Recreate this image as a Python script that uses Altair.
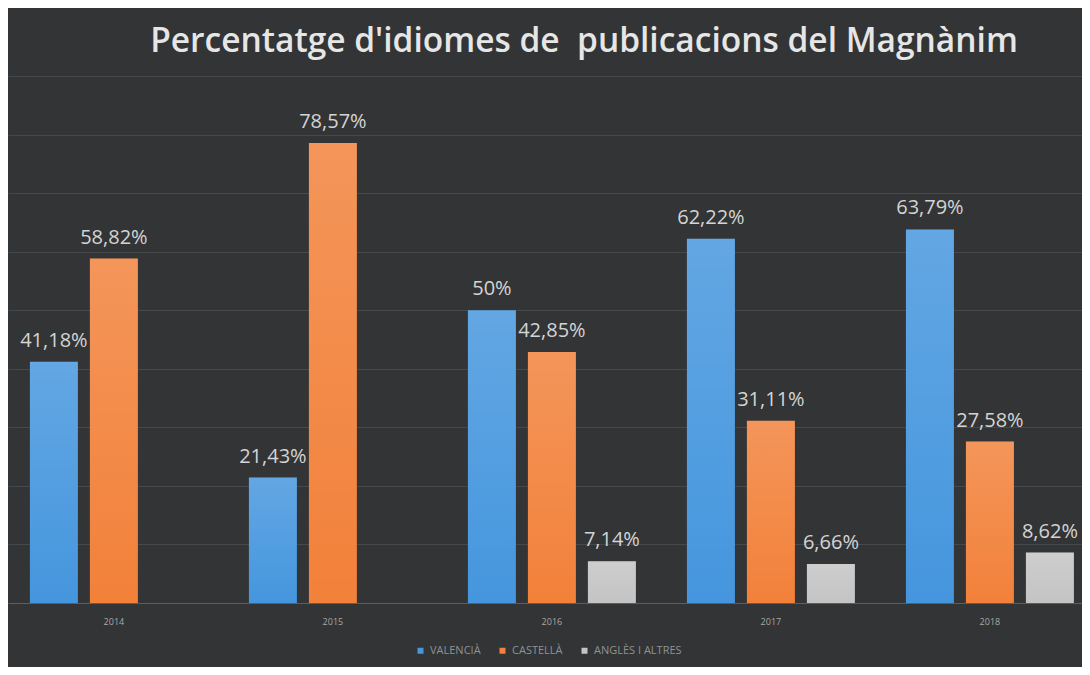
import altair as alt
import pandas as pd

years = ["2014", "2014", "2015", "2015", "2016", "2016", "2016", "2017", "2017", "2017", "2018", "2018", "2018"]
series = ["VALENCIÀ", "CASTELLÀ", "VALENCIÀ", "CASTELLÀ", "VALENCIÀ", "CASTELLÀ", "ANGLÈS I ALTRES",
          "VALENCIÀ", "CASTELLÀ", "ANGLÈS I ALTRES", "VALENCIÀ", "CASTELLÀ", "ANGLÈS I ALTRES"]
values = [41.18, 58.82, 21.43, 78.57, 50, 42.85, 7.14, 62.22, 31.11, 6.66, 63.79, 27.58, 8.62]
labels = ["41,18%", "58,82%", "21,43%", "78,57%", "50%", "42,85%", "7,14%",
          "62,22%", "31,11%", "6,66%", "63,79%", "27,58%", "8,62%"]

series_order = ["VALENCIÀ", "CASTELLÀ", "ANGLÈS I ALTRES"]
series_colors = ["#4596de", "#f2813a", "#c4c4c4"]

df = pd.DataFrame({"year": years, "series": series, "value": values, "label": labels})

x = alt.X("year:N", title=None,
          scale=alt.Scale(paddingInner=0.233, paddingOuter=0.0685, align=0.73),
          axis=alt.Axis(labelAngle=0, labelFontSize=9, labelColor="#a8a8a8", labelFont="Open Sans",
                        ticks=False, domain=True, domainColor="#5c5f62", labelPadding=14))
xo = alt.XOffset("series:N", sort=series_order,
                 scale=alt.Scale(domain=series_order, paddingInner=0.2, paddingOuter=0.0))
y = alt.Y("value:Q", title=None,
          scale=alt.Scale(domain=[0, 90], nice=False),
          axis=alt.Axis(labels=False, ticks=False, domain=False, grid=True,
                        values=[10, 20, 30, 40, 50, 60, 70, 80, 90],
                        gridColor="#46494c", gridWidth=1))

base = alt.Chart(df)

bars = base.mark_bar().encode(
    x=x, xOffset=xo, y=y,
    color=alt.Color("series:N", sort=series_order,
                    scale=alt.Scale(domain=series_order, range=series_colors),
                    legend=alt.Legend(title=None, orient="none", direction="horizontal",
                                      legendX=407, legendY=569,
                                      symbolType="square", symbolSize=36, labelFontSize=11,
                                      labelColor="#8f9294", labelFont="Open Sans",
                                      columnPadding=16, symbolStrokeWidth=0)),
)

shine = base.mark_bar(
    color=alt.Gradient(
        gradient="linear", x1=0, y1=0, x2=0, y2=1,
        stops=[alt.GradientStop(color="rgba(255,255,255,0.16)", offset=0),
               alt.GradientStop(color="rgba(255,255,255,0.0)", offset=1)],
    )
).encode(x=x, xOffset=xo, y=y)

text = base.mark_text(baseline="bottom", dy=-11, fontSize=20, color="#d4d4d4", font="Open Sans").encode(
    x=x, xOffset=xo, y=y, text="label:N"
)

chart = alt.layer(bars, shine, text).properties(
    width=1074, height=527,
    autosize=alt.AutoSizeParams(type="none"),
    padding={"left": 0, "right": 0, "top": 68, "bottom": 64},
    background="#323436",
    title=alt.Title("Percentatge d'idiomes de\u00a0 publicacions del Magnànim",
                    fontSize=33.5, font="Open Sans", fontWeight=600, color="#e6e6e6",
                    anchor="middle", dx=39, offset=17),
).configure_view(stroke=None)

chart.save("out.html", embed_options={"renderer": "svg", "actions": False})
